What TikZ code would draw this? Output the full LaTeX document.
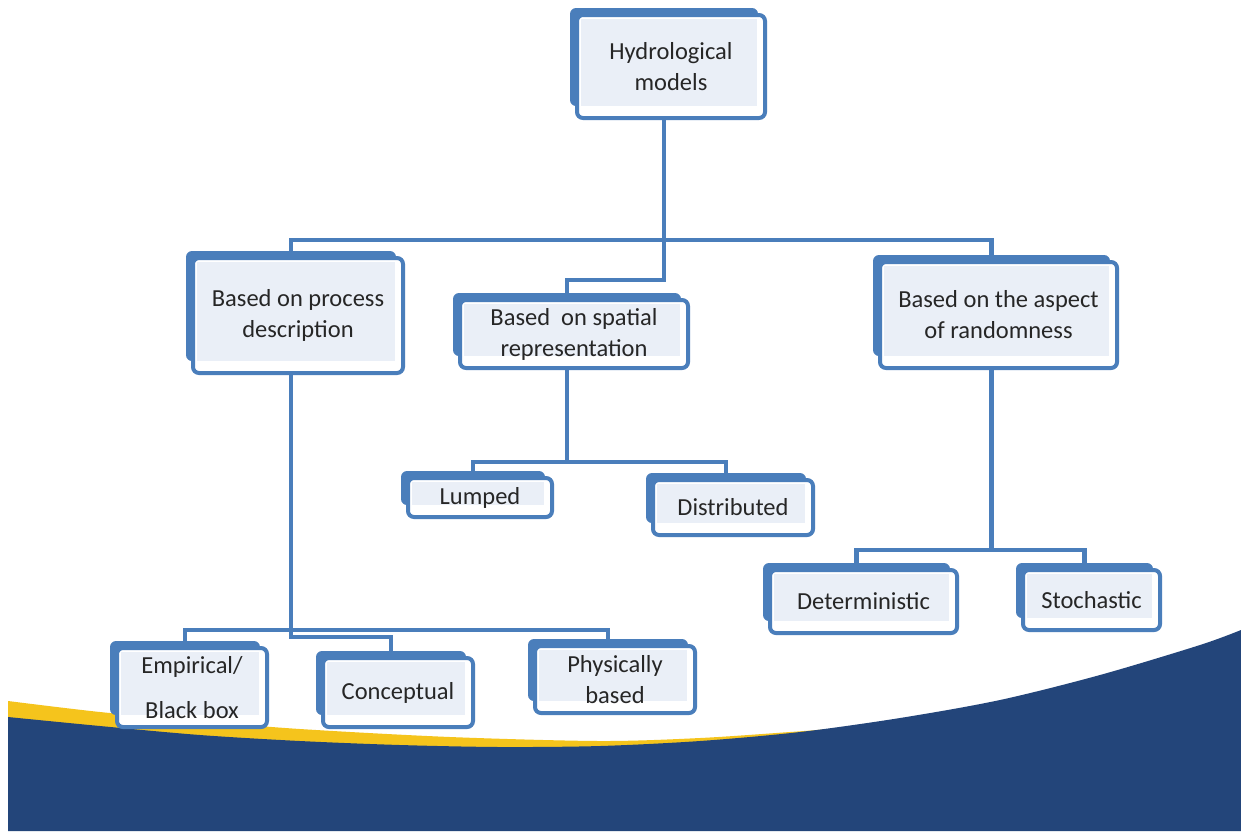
\documentclass[tikz,border=0pt]{standalone}
\usepackage{fontspec}
\setmainfont{Carlito}
\usetikzlibrary{backgrounds,fit}

\definecolor{boxblue}{RGB}{74,126,187}
\definecolor{innerfill}{RGB}{234,239,247}
\definecolor{navy}{RGB}{35,69,122}
\definecolor{wavegold}{RGB}{245,196,28}
\definecolor{ink}{RGB}{38,38,38}

\tikzset{
  modelbox/.style={draw=boxblue, line width=4pt, rounded corners=6pt, fill=white,
    align=center, text=ink, font=\fontsize{24.5}{31}\selectfont,
    inner sep=0pt, outer sep=0pt,
    path picture={\fill[innerfill, rounded corners=0pt]
      ([shift={(3.5pt,-3.5pt)}]path picture bounding box.north west) rectangle
      ([shift={(-8pt,12pt)}]path picture bounding box.south east);}},
  backbox/.style={fill=boxblue, rounded corners=6pt, inner sep=0pt, outer sep=0pt},
  conn/.style={draw=boxblue, line width=4.5pt},
}

\begin{document}
\begin{tikzpicture}[x=1pt, y=-1pt]
  \useasboundingbox (0,0) rectangle (1241,831);

  % front boxes
  \node[modelbox, minimum width=188pt, minimum height=103pt] (hydro) at (671,66.5) {Hydrological\\models};
  \node[modelbox, minimum width=210pt, minimum height=115pt] (proc) at (298,315.5) {Based on process\\description};
  \node[modelbox, minimum width=228pt, minimum height=68pt] (spat) at (574,334) {Based\ \ on spatial\\representation};
  \node[modelbox, minimum width=237pt, minimum height=106pt] (rand) at (998.5,315) {Based on the aspect\\of randomness};
  \node[modelbox, minimum width=144pt, minimum height=39pt] (lump) at (480,497.5) {Lumped};
  \node[modelbox, minimum width=160pt, minimum height=55pt] (dist) at (733,507.5) {Distributed};
  \node[modelbox, minimum width=187pt, minimum height=63pt] (det) at (863.5,601.5) {Deterministic};
  \node[modelbox, minimum width=137pt, minimum height=60pt] (sto) at (1091.5,600) {Stochastic};
  \node[modelbox, minimum width=150pt, minimum height=79pt, font=\fontsize{24.5}{45}\selectfont] (emp) at (192,687.5) {Empirical/\\Black box};
  \node[modelbox, minimum width=150pt, minimum height=69pt] (conc) at (398,692.5) {Conceptual};
  \node[modelbox, minimum width=160pt, minimum height=67pt] (phys) at (615,679.5) {Physically\\based};

  % bus levels of the tree
  \coordinate (busTop) at (0,240);
  \coordinate (busSpat) at (0,280);
  \coordinate (busProc) at (0,630);
  \coordinate (busConc) at (0,637);
  \coordinate (busLeaf) at (0,462);
  \coordinate (busRand) at (0,550);

  \begin{pgfonlayer}{background}
    \fill[white] (0,0) rectangle (1241,831);
    % gold stripe and navy wave at the foot
    \fill[wavegold] plot[smooth] coordinates {(8,701) (100,712) (200,721) (300,729) (450,737) (600,741) (700,738) (790,732) (830,729)}
      -- (830,760) -- (8,760) -- cycle;
    \fill[navy] plot[smooth] coordinates {(8,717) (100,726) (200,735) (300,741) (400,745) (500,747) (600,746) (700,741) (800,732) (900,718) (1000,700) (1100,675) (1200,645) (1241,630)}
      -- (1241,831) -- (8,831) -- cycle;

    % shadow plates behind each box
    \foreach \n in {hydro,proc,spat,rand,lump,dist,det,sto,emp,conc,phys}
      \node[backbox, fit={([shift={(-7,-7)}]\n.north west) ([shift={(-7,-12)}]\n.south east)}] (\n-b) {};

    % connectors
    \draw[conn] (hydro-b.south) -- (hydro-b.south |- busTop) -| (proc-b.north);
    \draw[conn] (hydro-b.south |- busTop) -| (rand-b.north);
    \draw[conn] (hydro-b.south) -- (hydro-b.south |- busSpat) -| (spat-b.north);

    \draw[conn] (spat-b.south) -- (spat-b.south |- busLeaf) -| (lump-b.north);
    \draw[conn] (spat-b.south |- busLeaf) -| (dist-b.north);

    \draw[conn] (rand-b.south) -- (rand-b.south |- busRand) -| (det-b.north);
    \draw[conn] (rand-b.south |- busRand) -| (sto-b.north);

    \draw[conn] (proc-b.south) -- (proc-b.south |- busConc) -| (conc-b.north);
    \draw[conn] (proc-b.south |- busProc) -| (emp-b.north);
    \draw[conn] (proc-b.south |- busProc) -| (phys-b.north);
  \end{pgfonlayer}
\end{tikzpicture}
\end{document}
